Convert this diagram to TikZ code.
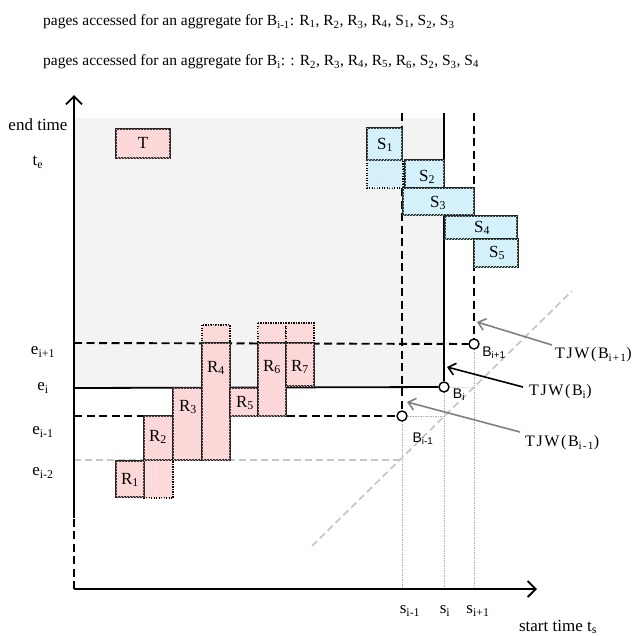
\documentclass[tikz,border=0pt]{standalone}
\usepackage{fontspec}
\setmainfont{Liberation Serif}
\newfontfamily\ptfont{Liberation Sans}
\newfontfamily\tjwfont[LetterSpace=10]{Liberation Serif}
\usetikzlibrary{arrows.meta,patterns}
\newcommand{\idx}[1]{\textsubscript{#1}}
\definecolor{rfill}{RGB}{252,222,222}
\definecolor{sfill}{RGB}{218,236,250}
\definecolor{shadefill}{RGB}{243,243,243}

\begin{document}
\begin{tikzpicture}[x=1pt, y=-1pt,
    lbl/.style={inner sep=0, font=\fontsize{17}{20}\selectfont},
    toptext/.style={inner sep=0, anchor=west, font=\fontsize{15.5}{18}\selectfont},
    ptlbl/.style={inner sep=0, font=\ptfont\fontsize{14}{16}\selectfont},
    tjw/.style={inner sep=0, anchor=west, font=\tjwfont\fontsize{16}{19}\selectfont},
    axis/.style={line width=1.8pt, -{Straight Barb[length=8pt,width=16pt]}},
    bound/.style={line width=1.9pt, dash pattern=on 8pt off 4.5pt},
    solidbound/.style={line width=1.8pt},
    guide/.style={gray!60, line width=0.5pt, dash pattern=on 1.5pt off 1pt},
    gdash/.style={gray!45, line width=1.7pt, dash pattern=on 7pt off 4pt},
    rbox/.style={draw=black!85, line width=1.3pt, fill=rfill, postaction={pattern=north west lines, pattern color=red!20}},
    rext/.style={rbox, draw=black, line width=1.6pt, dash pattern=on 1.4pt off 1.1pt},
    sbox/.style={draw=black!85, line width=1.3pt, fill=sfill, postaction={pattern=north east lines, pattern color=cyan!20}},
    sext/.style={sbox, draw=black, line width=1.6pt, dash pattern=on 1.4pt off 1.1pt},
    bpt/.style={circle, draw, line width=1.4pt, fill=white, minimum size=10pt, inner sep=0},
    tjwarrow/.style={line width=1.6pt, -{Straight Barb[length=7pt,width=12pt]}}
  ]
    \useasboundingbox (0,0) rectangle (638,637);

    % pages read per aggregate
    \node[toptext] (pagesa) at (43,22) {pages accessed for an aggregate for B\idx{i-1}: R\idx{1}, R\idx{2}, R\idx{3}, R\idx{4}, S\idx{1}, S\idx{2}, S\idx{3}};
    \node[toptext] (pagesb) at (43,62) {pages accessed for an aggregate for B\idx{i}: : R\idx{2}, R\idx{3}, R\idx{4}, R\idx{5}, R\idx{6}, S\idx{2}, S\idx{3}, S\idx{4}};

    % region of T
    \fill[shadefill] (75,118) rectangle (444,388);
    \draw[rbox] (116,129) rectangle (170,158);
    \node[lbl] (tname) at (143,143) {T};

    % boundary points
    \coordinate (o) at (74,589);
    \node[bpt] (bim) at (402,416) {};
    \node[bpt] (bi) at (444,387) {};
    \node[bpt] (bip) at (474,344) {};

    \draw[guide] (bim) -- (402,589);
    \draw[guide] (bim) -- (444,416);
    \draw[guide] (bi) -- (444,589);
    \draw[guide] (bi) -- (474,388);
    \draw[guide] (bip) -- (474,589);
    \draw[gdash] (312,546) -- (572,291);
    \draw[gdash] (74,460) -- (402,460);

    \draw[bound] (402,113) -- (bim);
    \draw[bound] (74,416) -- (bim);
    \draw[solidbound] (444,113) -- (bi);
    \draw[solidbound] (74,388) -- (bi);
    \draw[bound] (474,113) -- (bip);
    \draw[bound] (74,343) -- (bip);

    % pages of R
    \draw[rext] (144,460) rectangle (173,498);
    \draw[rext] (202,325) rectangle (230,343);
    \draw[rext] (258,323) rectangle (286,343);
    \draw[rext] (286,323) rectangle (314,343);
    \draw[rbox] (116,461) rectangle (144,497);
    \draw[rbox] (144,416) rectangle (173,460);
    \draw[rbox] (173,388) rectangle (202,460);
    \draw[rbox] (202,343) rectangle (230,460);
    \draw[rbox] (230,388) rectangle (258,416);
    \draw[rbox] (258,343) rectangle (286,416);
    \draw[rbox] (286,343) rectangle (314,386);
    \node[lbl] (r1) at (130,480) {R\idx{1}};
    \node[lbl] (r2) at (158,437) {R\idx{2}};
    \node[lbl] (r3) at (188,407) {R\idx{3}};
    \node[lbl] (r4) at (216,368) {R\idx{4}};
    \node[lbl] (r5) at (245,403) {R\idx{5}};
    \node[lbl] (r6) at (272,367) {R\idx{6}};
    \node[lbl] (r7) at (300,367) {R\idx{7}};

    % pages of S
    \draw[sext] (367,160) rectangle (403,188);
    \draw[sbox] (367,128) rectangle (402,160);
    \draw[sbox] (405,160) rectangle (444,188);
    \draw[sbox] (403,188) rectangle (474,215);
    \draw[sbox] (445,216) rectangle (517,239);
    \draw[sbox] (474,239) rectangle (518,267);
    \node[lbl] (s1) at (385,145) {S\idx{1}};
    \node[lbl] (s2) at (427,177) {S\idx{2}};
    \node[lbl] (s3) at (438,203) {S\idx{3}};
    \node[lbl] (s4) at (482,228) {S\idx{4}};
    \node[lbl] (s5) at (497,253) {S\idx{5}};

    % axes
    \draw[axis] (o) -- (537,589);
    \draw[axis] (74,518) -- (74,95);
    \draw[bound] (o) -- (74,518);
    \node[lbl] (endtime) at (38,125) {end time};
    \node[lbl] (te) at (38,162) {t\idx{e}};
    \node[lbl] (eip) at (43,352) {e\idx{i+1}};
    \node[lbl] (ei) at (43,388) {e\idx{i}};
    \node[lbl] (eim) at (43,432) {e\idx{i-1}};
    \node[lbl] (eimm) at (43,473) {e\idx{i-2}};
    \node[lbl] (sim) at (410,611) {s\idx{i-1}};
    \node[lbl] (si) at (445,611) {s\idx{i}};
    \node[lbl] (sip) at (478,611) {s\idx{i+1}};
    \node[lbl] (starttime) at (558,627) {start time t\idx{s}};

    % boundary labels and windows
    \node[ptlbl] (bipname) at (494,353) {B\idx{i+1}};
    \node[ptlbl] (biname) at (459,395) {B\idx{i}};
    \node[ptlbl] (bimname) at (423,439) {B\idx{i-1}};
    \node[tjw] (tjwp) at (555,355) {TJW(B\idx{i+1})};
    \node[tjw] (tjwi) at (529,392) {TJW(B\idx{i})};
    \node[tjw] (tjwm) at (525,443) {TJW(B\idx{i-1})};
    \coordinate (wp) at (477,322);
    \coordinate (wi) at (447,367);
    \coordinate (wm) at (407,402);
    \draw[tjwarrow, gray] ([xshift=-3pt, yshift=10pt]tjwp.west) -- (wp);
    \draw[tjwarrow] ([xshift=-6pt, yshift=5pt]tjwi.west) -- (wi);
    \draw[tjwarrow, gray] ([xshift=-5pt, yshift=11pt]tjwm.west) -- (wm);
\end{tikzpicture}
\end{document}
